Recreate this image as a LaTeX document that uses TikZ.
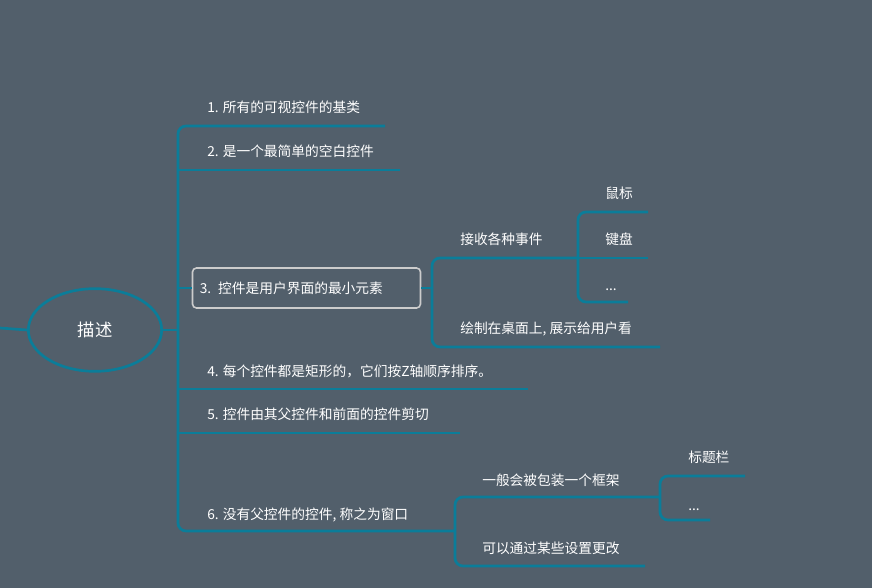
\documentclass[tikz,border=0pt]{standalone}
\usepackage{fontspec}
\setmainfont{Noto Sans CJK SC}
\usetikzlibrary{shapes.geometric}
\definecolor{bgc}{HTML}{525F6B}
\definecolor{lnc}{HTML}{0B7D99}
\tikzset{
  lbl/.style={anchor=base west, text=white, inner sep=0pt, font=\fontsize{10.3}{12}\selectfont},
  link/.style={draw=lnc, line width=2pt, rounded corners=6pt},
}
\begin{document}
\begin{tikzpicture}[x=0.75pt,y=-0.75pt]
		\fill[bgc] (0,0) rectangle (872,588);
		\useasboundingbox (0,0) rectangle (872,588);

		% Zentrum
		\node[ellipse, draw=lnc, line width=2pt, minimum width=100pt, minimum height=62pt, text=white, font=\fontsize{13}{15}\selectfont] (root) at (95,330) {描述};
		\coordinate (in) at (0,328);
		\draw[link] (in) -- (root.west);

		% Texte
		\node[lbl] (t1) at (207,113) {1. 所有的可视控件的基类};
		\node[lbl] (t2) at (207,157) {2. 是一个最简单的空白控件};
		\node[lbl, anchor=center, draw=white!60!gray, line width=1.2pt, rounded corners=3pt, text width=160pt, align=left, inner xsep=5.5pt, minimum height=30pt] (t3) at (306.5,288) {3. 控件是用户界面的最小元素};
		\node[lbl] (t4) at (207,377) {4. 每个控件都是矩形的，它们按Z轴顺序排序。};
		\node[lbl] (t5) at (207,419) {5. 控件由其父控件和前面的控件剪切};
		\node[lbl] (t6) at (207,519) {6. 没有父控件的控件, 称之为窗口};
		\node[lbl] (s1) at (460,245) {接收各种事件};
		\node[lbl] (s2) at (460,334) {绘制在桌面上, 展示给用户看};
		\node[lbl] (m1) at (605,199) {鼠标};
		\node[lbl] (m2) at (605,245) {键盘};
		\node[lbl] (m3) at (605,291) {...};
		\node[lbl] (w1) at (482,485) {一般会被包装一个框架};
		\node[lbl] (w2) at (482,553) {可以通过某些设置更改};
		\node[lbl] (f1) at (688,462) {标题栏};
		\node[lbl] (f2) at (688,510) {...};

		% Verbindungen
		\draw[link] (root.east) -- (178,330);
		\draw[link] (385,126) -- (178,126) -- (178,531) -- (455,531);
		\draw[link] (178,170) -- (400,170);
		\draw[link] (178,389) -- (528,389);
		\draw[link] (178,433) -- (460,433);
		\draw[link] (178,288) -- (t3.west);
		\draw[link] (t3.east) -- (432,288);
		\draw[link] (578,258) -- (432,258) -- (432,347) -- (660,347);
		\draw[link] (648,212) -- (578,212) -- (578,302) -- (628,302);
		\draw[link] (578,258) -- (648,258);
		\draw[link] (660,497) -- (455,497) -- (455,566) -- (645,566);
		\draw[link] (745,476) -- (660,476) -- (660,520) -- (710,520);
	\end{tikzpicture}
\end{document}
